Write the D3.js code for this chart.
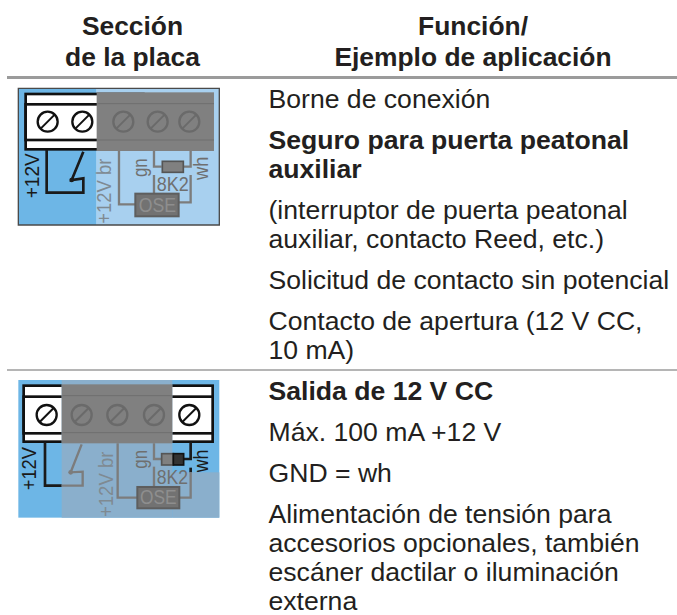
<!DOCTYPE html>
<html>
<head>
<meta charset="utf-8">
<script src="https://cdn.jsdelivr.net/npm/d3@7"></script>
<style>
html, body { margin: 0; padding: 0; background: #fff; }
svg { display: block; }
text { font-family: "Liberation Sans", Arial, sans-serif; }
</style>
</head>
<body>
<script>
'use strict';

var headLeft = ['Sección', 'de la placa'];
var headRight = ['Función/', 'Ejemplo de aplicación'];

// [text, bold] per line, grouped per row of the table
var rowOneLines = [
    ['Borne de conexión', false],
    ['Seguro para puerta peatonal', true],
    ['auxiliar', true],
    ['(interruptor de puerta peatonal', false],
    ['auxiliar, contacto Reed, etc.)', false],
    ['Solicitud de contacto sin potencial', false],
    ['Contacto de apertura (12 V CC,', false],
    ['10 mA)', false]
];
var rowOneBase = [108, 149, 178, 219, 248, 289, 330, 359];

var rowTwoLines = [
    ['Salida de 12 V CC', true],
    ['Máx. 100 mA +12 V', false],
    ['GND = wh', false],
    ['Alimentación de tensión para', false],
    ['accesorios opcionales, también', false],
    ['escáner dactilar o iluminación', false],
    ['externa', false]
];
var rowTwoBase = [400, 441, 482, 523, 552, 581, 610];

var w = 677, h = 615;
var BLUE = '#6db6e6', LIGHT = '#a8d0ef', GREY = '#808080', WIRE = '#7c7c7c', INK = '#1a1a1a';

var svg = d3.select('body').append('svg')
    .attr('width', w)
    .attr('height', h);

/** header */
function header(lines, cx) {
    svg.selectAll(null)
        .data(lines)
        .enter()
        .append('text')
        .attr('x', cx)
        .attr('y', function(d, i) { return 35 + i * 31; })
        .attr('text-anchor', 'middle')
        .attr('font-size', 26.4)
        .attr('font-weight', 'bold')
        .attr('fill', '#231f20')
        .text(function(d) { return d; });
}
header(headLeft, 132.5);
header(headRight, 473);

/** rules */
svg.selectAll('rect.rule')
    .data([[7, 76, 3, '#9b9b9b'], [7, 369, 2, '#b5b5b5']])
    .enter()
    .append('rect')
    .attr('class', 'rule')
    .attr('x', function(d) { return d[0]; })
    .attr('y', function(d) { return d[1]; })
    .attr('width', w - 7)
    .attr('height', function(d) { return d[2]; })
    .attr('fill', function(d) { return d[3]; });

/** text */
function body(lines, bases) {
    svg.selectAll(null)
        .data(lines)
        .enter()
        .append('text')
        .attr('x', 268.5)
        .attr('y', function(d, i) { return bases[i]; })
        .attr('font-size', 26.6)
        .attr('font-weight', function(d) { return d[1] ? 'bold' : 'normal'; })
        .attr('fill', '#231f20')
        .text(function(d) { return d[0]; });
}
body(rowOneLines, rowOneBase);
body(rowTwoLines, rowTwoBase);

/** board diagram, coordinates are in units of 1/3 px */
function rect(g, x0, y0, x1, y1, fill, stroke, sw) {
    return g.append('rect')
        .attr('x', x0).attr('y', y0)
        .attr('width', x1 - x0).attr('height', y1 - y0)
        .attr('fill', fill)
        .attr('stroke', stroke || 'none')
        .attr('stroke-width', sw || 0);
}
function wire(g, pts, color, sw) {
    return g.append('path')
        .attr('d', d3.line()(pts))
        .attr('fill', 'none')
        .attr('stroke', color)
        .attr('stroke-width', sw || 7);
}
function screw(g, cx, cy, color, fill) {
    g.append('circle').attr('cx', cx).attr('cy', cy).attr('r', 30)
        .attr('fill', fill).attr('stroke', color).attr('stroke-width', 7);
    g.append('line')
        .attr('x1', cx - 21).attr('y1', cy + 21)
        .attr('x2', cx + 21).attr('y2', cy - 21)
        .attr('stroke', color).attr('stroke-width', 6);
}
function label(g, str, x, y, size, color, len) {
    g.append('text')
        .attr('x', x).attr('y', y)
        .attr('font-size', size)
        .attr('fill', color)
        .attr('textLength', len)
        .attr('lengthAdjust', 'spacingAndGlyphs')
        .text(str);
}
function vtext(g, str, x, y, size, color, len) {
    g.append('text')
        .attr('transform', 'translate(' + x + ',' + y + ') rotate(-90)')
        .attr('font-size', size)
        .attr('fill', color)
        .attr('textLength', len)
        .attr('lengthAdjust', 'spacingAndGlyphs')
        .text(str);
}
function terminal(g, x0, y0, x1, y1, b0, b1) {
    rect(g, x0, y0, x1, y1, '#fff', '#111', 8);
    rect(g, x0, b0, x1, b1, '#fff', '#111', 8);
}
function dot(g, x, y, color) {
    g.append('circle').attr('cx', x).attr('cy', y).attr('r', 7).attr('fill', color);
}

// first diagram
var a = svg.append('g').attr('transform', 'translate(10,85) scale(0.3333)');
rect(a, 25, 10, 260, 420, BLUE);
rect(a, 260, 10, 628, 420, LIGHT);
a.append('path').attr('d', 'M25,10H628V420H25Z')
    .attr('fill', 'none').attr('stroke', '#4a4a4a').attr('stroke-width', 4);
terminal(a, 47, 27, 400, 193, 58, 165);
rect(a, 260, 22, 612, 198, GREY);
wire(a, [[262, 56], [612, 56]], '#6e6e6e', 3);
wire(a, [[262, 165], [612, 165]], '#6e6e6e', 3);
[113, 217].forEach(function(x) { screw(a, x, 110, '#111', '#fff'); });
[340, 443, 538].forEach(function(x) { screw(a, x, 110, '#6a6a6a', GREY); });
wire(a, [[110, 195], [110, 323], [220, 323], [220, 280], [185, 285], [220, 200]], INK, 8);
dot(a, 185, 285, INK);
wire(a, [[327, 198], [327, 358], [380, 358]], WIRE);
wire(a, [[432, 198], [432, 245], [455, 245]], WIRE);
wire(a, [[520, 245], [542, 245], [542, 198]], WIRE);
wire(a, [[432, 270], [432, 325]], WIRE);
wire(a, [[505, 352], [542, 352], [542, 270]], WIRE);
rect(a, 457, 229, 520, 262, GREY, '#555', 5);
rect(a, 376, 326, 506, 394, '#727272', '#5e5e5e', 6);
label(a, 'OSE', 386, 380, 58, '#8e8e8e', 112);
label(a, '8K2', 440, 318, 58, '#6f6f6f', 96);
vtext(a, '+12V', 86, 340, 58, INK, 135);
vtext(a, '+12V br', 304, 416, 58, '#7f8a92', 195);
vtext(a, 'gn', 410, 276, 60, '#6f6f6f', 56);
vtext(a, 'wh', 594, 285, 58, '#6f6f6f', 70);

// second diagram
var b = svg.append('g').attr('transform', 'translate(10,365) scale(0.3333)');
rect(b, 25, 45, 628, 458, BLUE);
terminal(b, 41, 62, 608, 230, 95, 205);
[110, 538].forEach(function(x) { screw(b, x, 150, '#111', '#fff'); });
wire(b, [[105, 232], [105, 362], [160, 362]], INK, 8);
wire(b, [[542, 232], [542, 282], [515, 282]], INK, 8);
wire(b, [[542, 308], [542, 324]], INK, 8);
vtext(b, '+12V', 79, 376, 58, INK, 130);
vtext(b, 'wh', 594, 322, 58, INK, 68);
rect(b, 155, 45, 487, 458, '#8aafcc');
rect(b, 487, 322, 628, 458, '#8aafcc');
rect(b, 155, 58, 487, 235, GREY);
wire(b, [[157, 92], [487, 92]], '#6e6e6e', 3);
wire(b, [[157, 203], [487, 203]], '#6e6e6e', 3);
[215, 322, 432].forEach(function(x) { screw(b, x, 150, '#6a6a6a', GREY); });
wire(b, [[155, 362], [218, 362], [218, 320], [182, 322], [215, 238]], WIRE);
dot(b, 182, 322, WIRE);
wire(b, [[323, 235], [323, 398], [385, 398]], WIRE);
wire(b, [[432, 235], [432, 282], [455, 282]], WIRE);
wire(b, [[432, 305], [432, 365]], WIRE);
wire(b, [[505, 398], [542, 398], [542, 322]], WIRE);
rect(b, 455, 266, 490, 300, GREY, '#555', 5);
rect(b, 490, 266, 521, 300, '#333', '#111', 5);
rect(b, 382, 366, 508, 430, '#727272', '#5e5e5e', 6);
label(b, 'OSE', 390, 418, 58, '#8e8e8e', 110);
label(b, '8K2', 440, 357, 58, '#6f6f6f', 94);
vtext(b, '+12V br', 309, 456, 58, '#7f8a92', 196);
vtext(b, 'gn', 412, 311, 60, '#6f6f6f', 56);
</script>
</body>
</html>
